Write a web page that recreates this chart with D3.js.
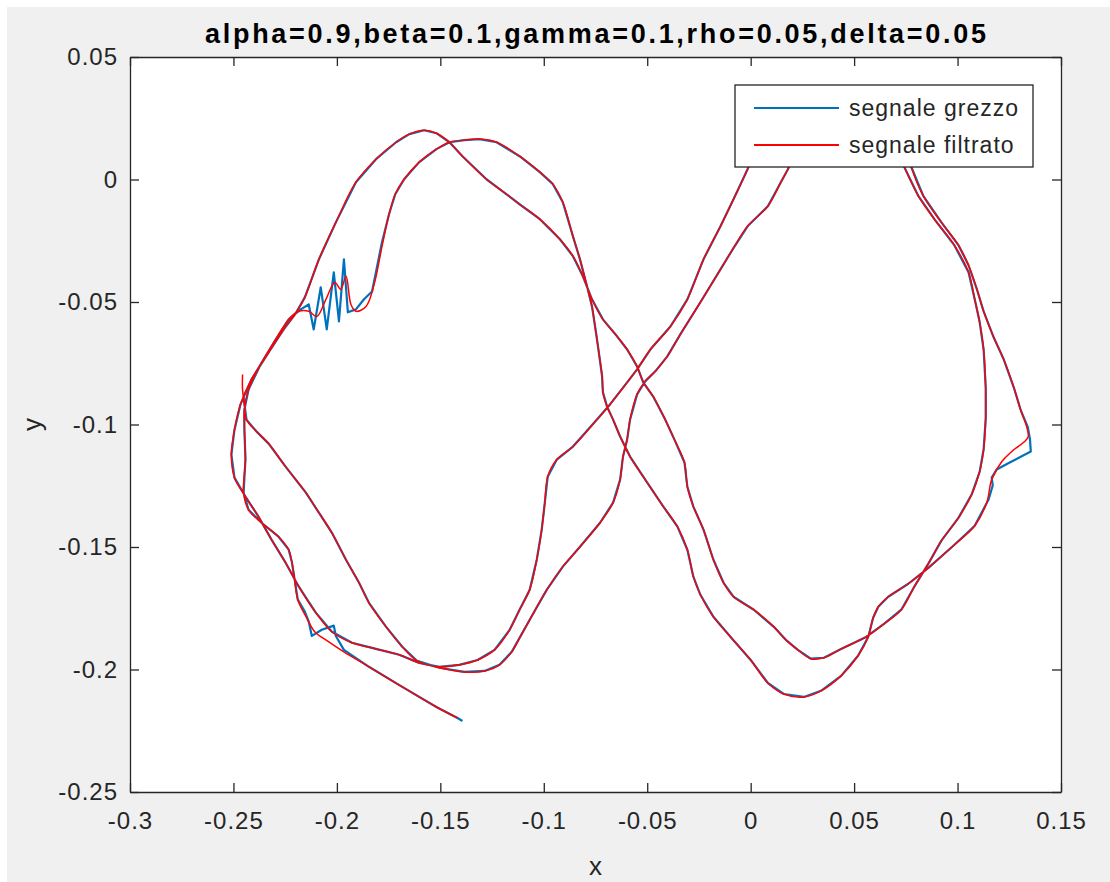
<!DOCTYPE html>
<html>
<head>
<meta charset="utf-8">
<script src="https://cdn.jsdelivr.net/npm/d3@7"></script>
<style>
  body { margin: 0; background: #ffffff; }
  svg { display: block; }
</style>
</head>
<body>
<svg id="chart" width="1110" height="882"></svg>
<script>
// ---------------- data ----------------
const titleText = "alpha=0.9,beta=0.1,gamma=0.1,rho=0.05,delta=0.05";
const xLabel = "x";
const yLabel = "y";
const seriesNames = ["segnale grezzo", "segnale filtrato"];
const xTicks = [-0.3, -0.25, -0.2, -0.15, -0.1, -0.05, 0, 0.05, 0.1, 0.15];
const yTicks = [0.05, 0, -0.05, -0.1, -0.15, -0.2, -0.25];

// filtered signal (red)
const filtX = [
-0.2456,-0.2456,-0.2447,-0.2437,-0.2388,-0.2330,-0.2248,-0.2150,-0.2087,-0.2024,
-0.1956,-0.1893,-0.1845,-0.1762,-0.1684,-0.1612,-0.1505,-0.1383,-0.1286,-0.1214,
-0.1155,-0.1117,-0.1068,-0.0985,-0.0908,-0.0825,-0.0728,-0.0665,-0.0631,-0.0617,
-0.0597,-0.0583,-0.0549,-0.0510,-0.0461,-0.0403,-0.0340,-0.0243,-0.0146,-0.0087,
-0.0015,0.0083,0.0146,0.0180,0.0243,0.0364,0.0534,0.0670,0.0743,0.0811,
0.0888,0.0985,0.1053,0.1083,0.1107,0.1126,0.1136,0.1136,0.1126,0.1107,
0.1068,0.1005,0.0922,0.0859,0.0791,0.0728,0.0646,0.0558,0.0437,0.0354,
0.0291,0.0228,0.0170,0.0112,0.0015,-0.0083,-0.0131,-0.0180,-0.0228,-0.0277,
-0.0306,-0.0320,-0.0364,-0.0413,-0.0471,-0.0519,-0.0549,-0.0597,-0.0646,-0.0714,
-0.0767,-0.0811,-0.0859,-0.0922,-0.1019,-0.1117,-0.1199,-0.1277,-0.1393,-0.1456,
-0.1519,-0.1578,-0.1650,-0.1714,-0.1811,-0.1908,-0.2005,-0.2087,-0.2155,-0.2199,
-0.2257,-0.2330,-0.2413,-0.2466,-0.2495,-0.2510,-0.2495,-0.2442,-0.2379,-0.2316,
-0.2248,-0.2184,-0.2102,-0.2024,-0.1927,-0.1811,-0.1699,-0.1602,-0.1505,-0.1408,
-0.1320,-0.1238,-0.1165,-0.1117,-0.1068,-0.1034,-0.1010,-0.0995,-0.0981,-0.0937,
-0.0859,-0.0743,-0.0680,-0.0597,-0.0549,-0.0485,-0.0388,-0.0306,-0.0228,-0.0146,
-0.0083,-0.0015,0.0073,0.0243,0.0534,0.0728,0.0777,0.0835,0.0922,0.1005,
0.1053,0.1092,0.1126,0.1175,0.1223,0.1272,0.1306,0.1335,0.1340,0.1262,
0.1214,0.1165,0.1141,0.1083,0.0985,0.0859,0.0762,0.0665,0.0617,0.0592,
0.0568,0.0519,0.0437,0.0340,0.0257,0.0160,0.0083,0.0000,-0.0097,-0.0180,
-0.0243,-0.0277,-0.0306,-0.0354,-0.0422,-0.0500,-0.0583,-0.0631,-0.0665,-0.0694,
-0.0714,-0.0718,-0.0738,-0.0752,-0.0767,-0.0791,-0.0825,-0.0859,-0.0908,-0.0956,
-0.1019,-0.1117,-0.1228,-0.1311,-0.1383,-0.1456,-0.1519,-0.1602,-0.1675,-0.1718,
-0.1748,-0.1782,-0.1820,-0.1859,-0.1908,-0.1932,-0.1956,-0.1981,-0.2010,-0.2053,
-0.2097,-0.2136,-0.2184,-0.2233,-0.2296,-0.2369,-0.2427,-0.2447,-0.2447,-0.2442,
-0.2451,-0.2427,-0.2364,-0.2282,-0.2233,-0.2218,-0.2204,-0.2189,-0.2146,-0.2107,
-0.2039,-0.1966,-0.1845,-0.1684,-0.1519,-0.1417
];
const filtY = [
-0.0796,-0.0857,-0.0918,-0.0980,-0.1029,-0.1078,-0.1172,-0.1278,-0.1360,-0.1442,
-0.1552,-0.1646,-0.1728,-0.1826,-0.1907,-0.1965,-0.1993,-0.2010,-0.2006,-0.1981,
-0.1928,-0.1871,-0.1797,-0.1674,-0.1580,-0.1499,-0.1401,-0.1319,-0.1225,-0.1131,
-0.1061,-0.0980,-0.0877,-0.0824,-0.0783,-0.0722,-0.0632,-0.0501,-0.0367,-0.0285,
-0.0191,-0.0109,-0.0011,0.0042,0.0165,0.0246,0.0259,0.0185,0.0050,-0.0068,
-0.0162,-0.0269,-0.0379,-0.0489,-0.0583,-0.0694,-0.0849,-0.0976,-0.1102,-0.1192,
-0.1286,-0.1380,-0.1474,-0.1568,-0.1662,-0.1756,-0.1813,-0.1867,-0.1916,-0.1952,
-0.1956,-0.1920,-0.1879,-0.1826,-0.1756,-0.1703,-0.1646,-0.1552,-0.1429,-0.1335,
-0.1254,-0.1155,-0.1070,-0.0980,-0.0886,-0.0828,-0.0763,-0.0694,-0.0640,-0.0571,
-0.0489,-0.0395,-0.0313,-0.0244,-0.0162,-0.0101,-0.0048,0.0001,0.0095,0.0152,
0.0189,0.0201,0.0185,0.0152,0.0083,-0.0011,-0.0175,-0.0326,-0.0481,-0.0546,
-0.0612,-0.0706,-0.0816,-0.0918,-0.1021,-0.1123,-0.1217,-0.1294,-0.1376,-0.1470,
-0.1564,-0.1662,-0.1768,-0.1846,-0.1891,-0.1916,-0.1940,-0.1973,-0.1989,-0.1981,
-0.1961,-0.1920,-0.1838,-0.1756,-0.1674,-0.1552,-0.1429,-0.1319,-0.1213,-0.1143,
-0.1090,-0.0980,-0.0918,-0.0828,-0.0775,-0.0694,-0.0600,-0.0489,-0.0326,-0.0191,
-0.0081,0.0042,0.0226,0.0320,0.0336,0.0226,0.0050,-0.0068,-0.0175,-0.0269,
-0.0350,-0.0444,-0.0538,-0.0645,-0.0734,-0.0849,-0.0943,-0.1012,-0.1053,-0.1110,
-0.1151,-0.1225,-0.1319,-0.1413,-0.1491,-0.1585,-0.1650,-0.1703,-0.1744,-0.1789,
-0.1867,-0.1944,-0.2026,-0.2087,-0.2112,-0.2100,-0.2055,-0.1961,-0.1867,-0.1785,
-0.1695,-0.1621,-0.1511,-0.1417,-0.1335,-0.1237,-0.1131,-0.1049,-0.0980,-0.0927,
-0.0869,-0.0804,-0.0681,-0.0600,-0.0518,-0.0436,-0.0326,-0.0232,-0.0093,-0.0019,
0.0030,0.0095,0.0152,0.0165,0.0161,0.0152,0.0124,0.0071,0.0001,-0.0060,
-0.0142,-0.0273,-0.0428,-0.0518,-0.0538,-0.0510,-0.0395,-0.0448,-0.0420,-0.0489,
-0.0559,-0.0538,-0.0538,-0.0571,-0.0653,-0.0755,-0.0857,-0.0939,-0.1021,-0.1143,
-0.1278,-0.1348,-0.1401,-0.1458,-0.1511,-0.1560,-0.1634,-0.1715,-0.1789,-0.1846,
-0.1887,-0.1928,-0.1989,-0.2071,-0.2153,-0.2198
];

// raw signal (blue)
const rawX = [
-0.2451,-0.2437,-0.2388,-0.2330,-0.2248,-0.2150,-0.2087,-0.2024,
-0.1956,-0.1893,-0.1845,-0.1762,-0.1684,-0.1612,-0.1505,-0.1383,-0.1286,-0.1214,
-0.1155,-0.1117,-0.1068,-0.0985,-0.0908,-0.0825,-0.0728,-0.0665,-0.0631,-0.0617,
-0.0597,-0.0583,-0.0549,-0.0510,-0.0461,-0.0403,-0.0340,-0.0243,-0.0146,-0.0087,
-0.0015,0.0083,0.0146,0.0180,0.0243,0.0364,0.0534,0.0670,0.0743,0.0811,
0.0888,0.0985,0.1053,0.1083,0.1107,0.1126,0.1136,0.1136,0.1126,0.1107,
0.1068,0.1005,0.0922,0.0859,0.0791,0.0728,0.0646,0.0558,0.0437,0.0354,
0.0291,0.0228,0.0170,0.0112,0.0015,-0.0083,-0.0131,-0.0180,-0.0228,-0.0277,
-0.0306,-0.0320,-0.0364,-0.0413,-0.0471,-0.0519,-0.0549,-0.0597,-0.0646,-0.0714,
-0.0767,-0.0811,-0.0859,-0.0922,-0.1019,-0.1117,-0.1199,-0.1277,-0.1393,-0.1456,
-0.1519,-0.1578,-0.1650,-0.1714,-0.1811,-0.1908,-0.2005,-0.2087,-0.2155,-0.2199,
-0.2257,-0.2330,-0.2413,-0.2466,-0.2495,-0.2510,-0.2495,-0.2442,-0.2379,-0.2316,
-0.2248,-0.2184,-0.2102,-0.2024,-0.1927,-0.1811,-0.1699,-0.1602,-0.1505,-0.1408,
-0.1320,-0.1238,-0.1165,-0.1117,-0.1068,-0.1034,-0.1010,-0.0995,-0.0981,-0.0937,
-0.0859,-0.0743,-0.0680,-0.0597,-0.0549,-0.0485,-0.0388,-0.0306,-0.0228,-0.0146,
-0.0083,-0.0015,0.0073,0.0243,0.0534,0.0728,0.0777,0.0835,0.0922,0.1005,
0.1053,0.1092,0.1126,0.1175,0.1223,0.1272,0.1306,
0.1340,0.1350,0.1354,0.1252,0.1189,0.1165,0.1170,0.1150,
0.1083,0.0985,0.0859,0.0762,0.0665,0.0617,0.0592,
0.0568,0.0519,0.0437,0.0340,0.0257,0.0160,0.0083,0.0000,-0.0097,-0.0180,
-0.0243,-0.0277,-0.0306,-0.0354,-0.0422,-0.0500,-0.0583,-0.0631,-0.0665,-0.0694,
-0.0714,-0.0718,-0.0738,-0.0752,-0.0767,-0.0791,-0.0825,-0.0859,-0.0908,-0.0956,
-0.1019,-0.1117,-0.1228,-0.1311,-0.1383,-0.1456,-0.1519,-0.1602,-0.1675,-0.1718,
-0.1748,
-0.1782,-0.1830,-0.1869,-0.1908,-0.1947,-0.1966,-0.1990,-0.2015,-0.2049,-0.2078,-0.2112,-0.2136,-0.2175,
-0.2233,-0.2296,-0.2369,-0.2427,-0.2447,-0.2447,-0.2442,-0.2451,-0.2427,-0.2364,-0.2282,-0.2233,-0.2218,-0.2204,-0.2189,
-0.2155,-0.2136,-0.2121,-0.2073,-0.2015,-0.2005,-0.1966,
-0.1845,-0.1684,-0.1519,-0.1417,
-0.1393
];
const rawY = [
-0.0890,-0.0980,-0.1029,-0.1078,-0.1172,-0.1278,-0.1360,-0.1442,
-0.1552,-0.1646,-0.1728,-0.1826,-0.1907,-0.1965,-0.1993,-0.2010,-0.2006,-0.1981,
-0.1928,-0.1871,-0.1797,-0.1674,-0.1580,-0.1499,-0.1401,-0.1319,-0.1225,-0.1131,
-0.1061,-0.0980,-0.0877,-0.0824,-0.0783,-0.0722,-0.0632,-0.0501,-0.0367,-0.0285,
-0.0191,-0.0109,-0.0011,0.0042,0.0165,0.0246,0.0259,0.0185,0.0050,-0.0068,
-0.0162,-0.0269,-0.0379,-0.0489,-0.0583,-0.0694,-0.0849,-0.0976,-0.1102,-0.1192,
-0.1286,-0.1380,-0.1474,-0.1568,-0.1662,-0.1756,-0.1813,-0.1867,-0.1916,-0.1952,
-0.1956,-0.1920,-0.1879,-0.1826,-0.1756,-0.1703,-0.1646,-0.1552,-0.1429,-0.1335,
-0.1254,-0.1155,-0.1070,-0.0980,-0.0886,-0.0828,-0.0763,-0.0694,-0.0640,-0.0571,
-0.0489,-0.0395,-0.0313,-0.0244,-0.0162,-0.0101,-0.0048,0.0001,0.0095,0.0152,
0.0189,0.0201,0.0185,0.0152,0.0083,-0.0011,-0.0175,-0.0326,-0.0481,-0.0546,
-0.0612,-0.0706,-0.0816,-0.0918,-0.1021,-0.1123,-0.1217,-0.1294,-0.1376,-0.1470,
-0.1564,-0.1662,-0.1768,-0.1846,-0.1891,-0.1916,-0.1940,-0.1973,-0.1989,-0.1981,
-0.1961,-0.1920,-0.1838,-0.1756,-0.1674,-0.1552,-0.1429,-0.1319,-0.1213,-0.1143,
-0.1090,-0.0980,-0.0918,-0.0828,-0.0775,-0.0694,-0.0600,-0.0489,-0.0326,-0.0191,
-0.0081,0.0042,0.0226,0.0320,0.0336,0.0226,0.0050,-0.0068,-0.0175,-0.0269,
-0.0350,-0.0444,-0.0538,-0.0645,-0.0734,-0.0849,-0.0943,
-0.1012,-0.1061,-0.1110,-0.1155,-0.1184,-0.1217,-0.1249,-0.1306,
-0.1413,-0.1491,-0.1585,-0.1650,-0.1703,-0.1744,-0.1789,
-0.1867,-0.1944,-0.2026,-0.2087,-0.2112,-0.2100,-0.2055,-0.1961,-0.1867,-0.1785,
-0.1695,-0.1621,-0.1511,-0.1417,-0.1335,-0.1237,-0.1131,-0.1049,-0.0980,-0.0927,
-0.0869,-0.0804,-0.0681,-0.0600,-0.0518,-0.0436,-0.0326,-0.0232,-0.0093,-0.0019,
0.0030,0.0095,0.0152,0.0165,0.0161,0.0152,0.0124,0.0071,0.0001,-0.0060,
-0.0142,
-0.0256,-0.0457,-0.0489,-0.0530,-0.0542,-0.0326,-0.0579,-0.0379,-0.0612,-0.0440,-0.0612,-0.0510,-0.0530,
-0.0571,-0.0653,-0.0755,-0.0857,-0.0939,-0.1021,-0.1143,-0.1278,-0.1348,-0.1401,-0.1458,-0.1511,-0.1560,-0.1634,-0.1715,
-0.1764,-0.1805,-0.1863,-0.1838,-0.1821,-0.1863,-0.1920,
-0.1989,-0.2071,-0.2153,-0.2198,
-0.2210
];

const seriesColors = ["#0072BD", "#FF0000"];

// ---------------- drawing ----------------
const W = 1110, H = 882;
const plot = { left: 130, right: 1061, top: 57, bottom: 792 };
const FONT = "'Liberation Sans', Arial, Helvetica, sans-serif";
const INK = "#262626";

const svg = d3.select("#chart");

// figure background
svg.append("rect")
  .attr("x", 7).attr("y", 7)
  .attr("width", W - 7).attr("height", H - 7)
  .attr("fill", "#f0f0f0");

const x = d3.scaleLinear()
  .domain([d3.min(xTicks), d3.max(xTicks)])
  .range([plot.left, plot.right]);
const y = d3.scaleLinear()
  .domain([d3.min(yTicks), d3.max(yTicks)])
  .range([plot.bottom, plot.top]);

// axes area
svg.append("rect")
  .attr("x", plot.left).attr("y", plot.top)
  .attr("width", plot.right - plot.left).attr("height", plot.bottom - plot.top)
  .attr("fill", "#ffffff");

svg.append("clipPath").attr("id", "clip")
  .append("rect")
  .attr("x", plot.left).attr("y", plot.top)
  .attr("width", plot.right - plot.left).attr("height", plot.bottom - plot.top);

const rawLine = d3.line()
  .x(d => x(d[0])).y(d => y(d[1]));
const smoothLine = d3.line().curve(d3.curveCatmullRom.alpha(0.5))
  .x(d => x(d[0])).y(d => y(d[1]));
const rawData = d3.zip(rawX, rawY);
const filtData = d3.zip(filtX, filtY);

const lines = svg.append("g").attr("clip-path", "url(#clip)");
lines.append("path").datum(rawData)
  .attr("d", rawLine).attr("fill", "none")
  .attr("stroke", seriesColors[0]).attr("stroke-width", 2.2)
  .attr("stroke-linejoin", "round");
lines.append("path").datum(filtData)
  .attr("d", smoothLine).attr("fill", "none")
  .attr("stroke", seriesColors[1]).attr("stroke-width", 1.5)
  .attr("stroke-linejoin", "round");

// axes
const TICK = 9;
const fmt = d => String(d);

function styleAxis(g) {
  g.selectAll("path.domain").attr("stroke", INK).attr("stroke-width", 1.3);
  g.selectAll(".tick line").attr("stroke", INK).attr("stroke-width", 1.3);
  g.selectAll(".tick text")
    .attr("fill", INK)
    .style("font-family", FONT)
    .style("font-size", "24px")
    .style("letter-spacing", "1px");
}

svg.append("g")
  .attr("transform", `translate(0,${plot.bottom})`)
  .call(d3.axisBottom(x).tickValues(xTicks).tickFormat(fmt)
        .tickSizeInner(-TICK).tickSizeOuter(0).tickPadding(20))
  .call(styleAxis);

svg.append("g")
  .attr("transform", `translate(${plot.left},0)`)
  .call(d3.axisLeft(y).tickValues(yTicks).tickFormat(fmt)
        .tickSizeInner(-TICK).tickSizeOuter(0).tickPadding(12))
  .call(styleAxis);

svg.append("g")
  .attr("transform", `translate(0,${plot.top})`)
  .call(d3.axisTop(x).tickValues(xTicks).tickFormat("")
        .tickSizeInner(-TICK).tickSizeOuter(0))
  .call(styleAxis);

svg.append("g")
  .attr("transform", `translate(${plot.right},0)`)
  .call(d3.axisRight(y).tickValues(yTicks).tickFormat("")
        .tickSizeInner(-TICK).tickSizeOuter(0))
  .call(styleAxis);

// title
svg.append("text")
  .attr("x", (plot.left + plot.right) / 2)
  .attr("y", 43)
  .attr("text-anchor", "middle")
  .attr("textLength", 781)
  .attr("lengthAdjust", "spacing")
  .style("font-family", FONT)
  .style("font-weight", "bold")
  .style("font-size", "27px")
  .attr("fill", "#000")
  .text(titleText);

// axis labels
svg.append("text")
  .attr("x", (plot.left + plot.right) / 2)
  .attr("y", 875)
  .attr("text-anchor", "middle")
  .style("font-family", FONT)
  .style("font-size", "26px")
  .attr("fill", INK)
  .text(xLabel);

svg.append("text")
  .attr("transform", `translate(41,${(plot.top + plot.bottom) / 2}) rotate(-90)`)
  .attr("text-anchor", "middle")
  .style("font-family", FONT)
  .style("font-size", "26px")
  .attr("fill", INK)
  .text(yLabel);

// legend
const legend = svg.append("g");
legend.append("rect")
  .attr("x", 735).attr("y", 85)
  .attr("width", 298).attr("height", 82)
  .attr("fill", "#ffffff")
  .attr("stroke", INK).attr("stroke-width", 1.3);

const items = legend.selectAll("g.item")
  .data(seriesNames)
  .join("g")
  .attr("class", "item")
  .attr("transform", (d, i) => `translate(0,${108 + i * 37})`);

items.append("line")
  .attr("x1", 754).attr("x2", 839)
  .attr("y1", 0).attr("y2", 0)
  .attr("stroke", (d, i) => seriesColors[i])
  .attr("stroke-width", 2);

items.append("text")
  .attr("x", 849).attr("y", 0)
  .attr("dy", "0.35em")
  .style("font-family", FONT)
  .style("font-size", "23px")
  .style("letter-spacing", "1px")
  .attr("fill", INK)
  .text(d => d);
</script>
</body>
</html>
